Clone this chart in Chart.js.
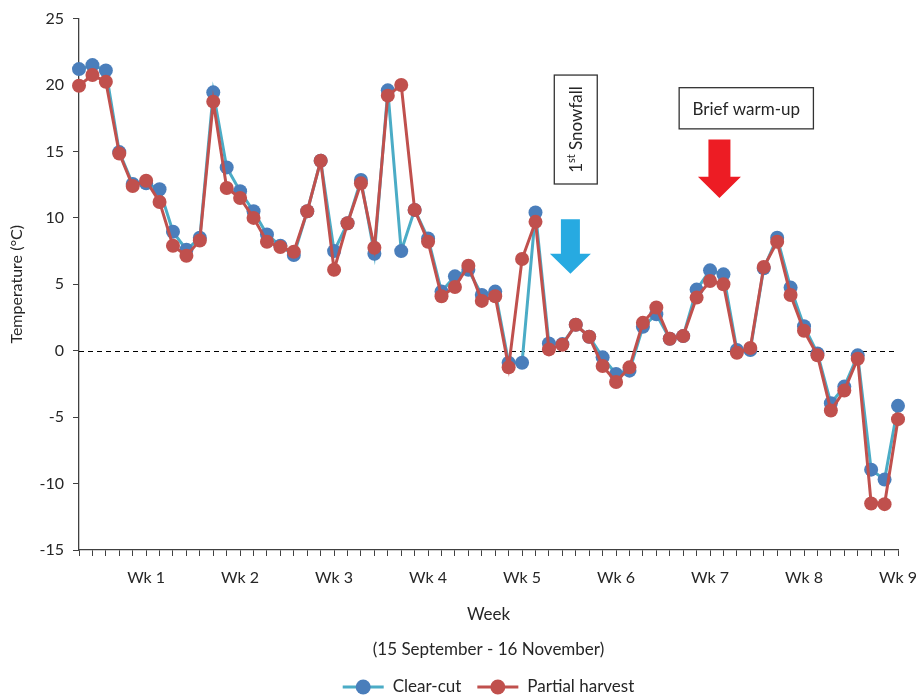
<!DOCTYPE html>
<html><head><meta charset="utf-8">
<script src="https://cdn.jsdelivr.net/npm/chart.js@4.4.1/dist/chart.umd.min.js"></script>
<style>html,body{margin:0;padding:0;background:#fff;overflow:hidden;}</style>
</head><body>
<canvas id="c" width="919" height="696"></canvas>
<script>
// ---- data ----
const categories = ['', '', '', '', '', 'Wk 1', '', '', '', '', '', '', 'Wk 2', '', '', '', '', '', '', 'Wk 3', '', '', '', '', '', '', 'Wk 4', '', '', '', '', '', '', 'Wk 5', '', '', '', '', '', '', 'Wk 6', '', '', '', '', '', '', 'Wk 7', '', '', '', '', '', '', 'Wk 8', '', '', '', '', '', '', 'Wk 9'];
const clearCut = [21.2, 21.5, 21.1, 14.95, 12.55, 12.6, 12.15, 8.95, 7.6, 8.5, 19.45, 13.8, 12.0, 10.5, 8.75, 7.9, 7.2, 10.5, 14.3, 7.5, 9.6, 12.85, 7.3, 19.6, 7.5, 10.6, 8.45, 4.45, 5.6, 6.1, 4.2, 4.45, -0.9, -0.9, 10.4, 0.55, 0.5, 1.95, 1.05, -0.5, -1.75, -1.5, 1.8, 2.75, 0.9, 1.1, 4.6, 6.05, 5.75, 0.05, 0.05, 6.2, 8.5, 4.75, 1.85, -0.2, -3.95, -2.7, -0.35, -8.95, -9.7, -4.15];
const partialHarvest = [19.95, 20.75, 20.25, 14.85, 12.4, 12.8, 11.2, 7.9, 7.15, 8.3, 18.75, 12.25, 11.5, 10.0, 8.2, 7.8, 7.45, 10.5, 14.3, 6.1, 9.6, 12.6, 7.75, 19.2, 20.0, 10.6, 8.2, 4.1, 4.8, 6.4, 3.75, 4.1, -1.25, 6.9, 9.7, 0.1, 0.45, 1.95, 1.05, -1.15, -2.35, -1.25, 2.1, 3.25, 0.9, 1.1, 4.0, 5.25, 5.0, -0.15, 0.2, 6.3, 8.2, 4.2, 1.5, -0.35, -4.5, -3.0, -0.6, -11.5, -11.55, -5.15];
const yMin = -15, yMax = 25, yStep = 5;
const seriesNames = ['Clear-cut', 'Partial harvest'];
const xTitle = ['Week', '(15 September - 16 November)'];
const yTitle = 'Temperature (°C)';

// ---- styles ----
const FONT = 'Lato, "Open Sans", sans-serif';
const TXT = '#262626';
const AX = '#404040';
const BLUE_LINE = '#4BACC6', BLUE_PT = '#4A7EBB';
const RED_LINE = '#C0504D', RED_PT = '#C0504D';

// annotation anchors in data units (category index, value)
const annotations = {
  snowBox: {x0: 35.4, x1: 38.6, y0: 20.75, y1: 12.55},
  snowArrow: {x: 36.6, top: 9.9, head: 7.3, tip: 5.8, shaft: 9.5, headW: 20.5, color: '#27AAE1'},
  warmBox: {x0: 44.7, x1: 54.7, y0: 19.8, y1: 16.7, text: 'Brief warm-up'},
  warmArrow: {x: 47.7, top: 15.9, head: 13.1, tip: 11.5, shaft: 11, headW: 21.5, color: '#ED1C24'}
};

function drawArrow(ctx, xs, ys, a) {
  const cx = xs.getPixelForValue(a.x);
  const t = ys.getPixelForValue(a.top), h = ys.getPixelForValue(a.head), p = ys.getPixelForValue(a.tip);
  ctx.beginPath();
  ctx.moveTo(cx - a.shaft, t);
  ctx.lineTo(cx + a.shaft, t);
  ctx.lineTo(cx + a.shaft, h);
  ctx.lineTo(cx + a.headW, h);
  ctx.lineTo(cx, p);
  ctx.lineTo(cx - a.headW, h);
  ctx.lineTo(cx - a.shaft, h);
  ctx.closePath();
  ctx.fillStyle = a.color;
  ctx.fill();
}

const annotPlugin = {
  id: 'annot',
  beforeDatasetsDraw(chart) {
    const {ctx, chartArea, scales: {y}} = chart;
    const y0 = Math.round(y.getPixelForValue(0)) + 0.5;
    ctx.save();
    ctx.setLineDash([5, 4]);
    ctx.strokeStyle = '#000';
    ctx.lineWidth = 1.2;
    ctx.beginPath();
    ctx.moveTo(chartArea.left, y0);
    ctx.lineTo(chartArea.right, y0);
    ctx.stroke();
    ctx.restore();
  },
  afterDatasetsDraw(chart) {
    const {ctx, scales: {x, y}} = chart;
    ctx.save();
    // snowfall box
    const sb = annotations.snowBox;
    const sx0 = x.getPixelForValue(sb.x0), sx1 = x.getPixelForValue(sb.x1);
    const sy0 = y.getPixelForValue(sb.y0), sy1 = y.getPixelForValue(sb.y1);
    ctx.fillStyle = '#fff';
    ctx.fillRect(sx0, sy0, sx1 - sx0, sy1 - sy0);
    ctx.strokeStyle = '#333';
    ctx.lineWidth = 1.3;
    ctx.strokeRect(sx0, sy0, sx1 - sx0, sy1 - sy0);
    ctx.save();
    ctx.translate((sx0 + sx1) / 2, (sy0 + sy1) / 2);
    ctx.rotate(-Math.PI / 2);
    ctx.fillStyle = TXT;
    ctx.textBaseline = 'middle';
    ctx.textAlign = 'left';
    const big = '17px ' + FONT, small = '11px ' + FONT;
    ctx.font = big; const w1 = ctx.measureText('1').width; const w3 = ctx.measureText(' Snowfall').width;
    ctx.font = small; const w2 = ctx.measureText('st').width;
    let tx = -(w1 + w2 + w3) / 2;
    ctx.font = big; ctx.fillText('1', tx, 1); tx += w1;
    ctx.font = small; ctx.fillText('st', tx, -4); tx += w2;
    ctx.font = big; ctx.fillText(' Snowfall', tx, 1);
    ctx.restore();
    // warm box
    const wb = annotations.warmBox;
    const wx0 = x.getPixelForValue(wb.x0), wx1 = x.getPixelForValue(wb.x1);
    const wy0 = y.getPixelForValue(wb.y0), wy1 = y.getPixelForValue(wb.y1);
    ctx.fillStyle = '#fff';
    ctx.fillRect(wx0, wy0, wx1 - wx0, wy1 - wy0);
    ctx.strokeRect(wx0, wy0, wx1 - wx0, wy1 - wy0);
    ctx.fillStyle = TXT;
    ctx.font = '17px ' + FONT;
    ctx.textAlign = 'center';
    ctx.textBaseline = 'middle';
    ctx.fillText(wb.text, (wx0 + wx1) / 2, (wy0 + wy1) / 2 + 1);
    // arrows
    drawArrow(ctx, x, y, annotations.snowArrow);
    drawArrow(ctx, x, y, annotations.warmArrow);
    ctx.restore();
  },
  afterDraw(chart) {
    // legend (Excel style: line with marker)
    const {ctx, chartArea} = chart;
    const items = [
      {text: seriesNames[0], line: BLUE_LINE, pt: BLUE_PT},
      {text: seriesNames[1], line: RED_LINE, pt: RED_PT}
    ];
    ctx.save();
    ctx.font = '17px ' + FONT;
    const iconW = 41, gapText = 9, gapItem = 16;
    const widths = items.map(it => iconW + gapText + ctx.measureText(it.text).width);
    const total = widths.reduce((a, b) => a + b, 0) + gapItem;
    let lx = (chartArea.left + chartArea.right) / 2 - total / 2;
    const ly = chart.height - 9;
    items.forEach((it, i) => {
      ctx.strokeStyle = it.line;
      ctx.lineWidth = 3;
      ctx.beginPath();
      ctx.moveTo(lx, ly); ctx.lineTo(lx + iconW, ly);
      ctx.stroke();
      ctx.fillStyle = it.pt;
      ctx.beginPath();
      ctx.arc(lx + iconW / 2, ly, 7.5, 0, Math.PI * 2);
      ctx.fill();
      ctx.fillStyle = TXT;
      ctx.textAlign = 'left';
      ctx.textBaseline = 'middle';
      ctx.fillText(it.text, lx + iconW + gapText, ly);
      lx += widths[i] + gapItem;
    });
    ctx.restore();
  }
};

new Chart(document.getElementById('c'), {
  type: 'line',
  data: {
    labels: categories,
    datasets: [
      {label: seriesNames[1], data: partialHarvest, borderColor: RED_LINE, backgroundColor: RED_PT,
       pointBackgroundColor: RED_PT, pointBorderColor: RED_PT, borderWidth: 3, pointRadius: 7, pointBorderWidth: 0,
       tension: 0, order: 1},
      {label: seriesNames[0], data: clearCut, borderColor: BLUE_LINE, backgroundColor: BLUE_PT,
       pointBackgroundColor: BLUE_PT, pointBorderColor: BLUE_PT, borderWidth: 3, pointRadius: 7, pointBorderWidth: 0,
       tension: 0, order: 2}
    ]
  },
  options: {
    responsive: false,
    animation: false,
    events: [],
    layout: {padding: {left: 7, right: 21, top: 18, bottom: 29}},
    plugins: {legend: {display: false}, tooltip: {enabled: false}},
    scales: {
      x: {
        type: 'category',
        offset: false,
        grid: {display: true, drawOnChartArea: false, drawTicks: true, tickLength: 6, color: AX, lineWidth: 1},
        border: {display: true, color: AX, width: 1.3},
        ticks: {autoSkip: false, maxRotation: 0, minRotation: 0, padding: 12, color: TXT, font: {family: FONT, size: 16}},
        title: {display: true, text: xTitle, color: TXT, font: {family: FONT, size: 17, lineHeight: 35 / 17}, padding: 0},
        afterFit(s) { s.height = 117; s.paddingRight = 0; s.paddingLeft = 0; }
      },
      y: {
        min: yMin, max: yMax,
        grid: {display: true, drawOnChartArea: false, drawTicks: true, tickLength: 6, color: AX, lineWidth: 1},
        border: {display: true, color: AX, width: 1.3},
        ticks: {stepSize: yStep, padding: 9, color: TXT, font: {family: FONT, size: 16}},
        title: {display: true, text: yTitle, color: TXT, font: {family: FONT, size: 16}, padding: 0},
        afterFit(s) { s.width = 72; }
      }
    }
  },
  plugins: [annotPlugin]
});
</script>
</body></html>
